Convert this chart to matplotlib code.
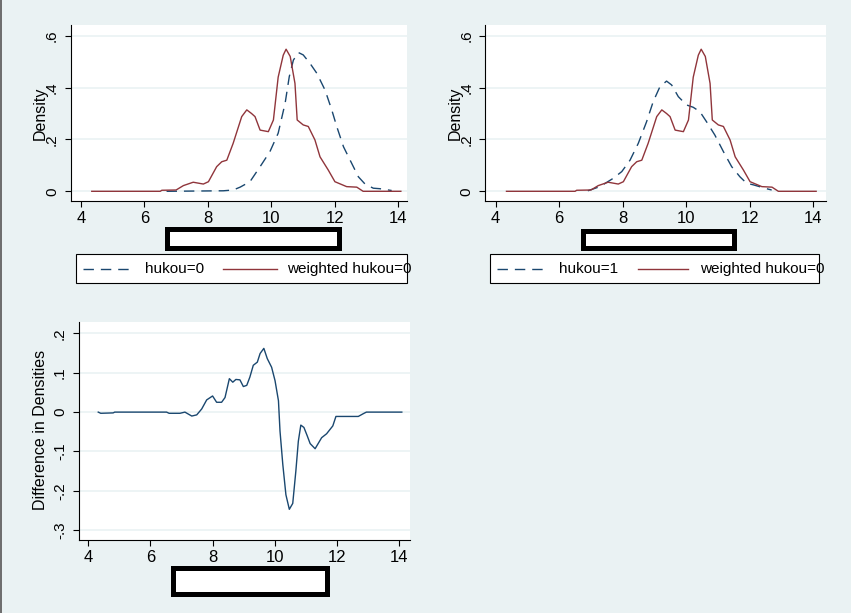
import matplotlib

matplotlib.use("Agg")
import matplotlib.pyplot as plt
from matplotlib.lines import Line2D
from matplotlib.patches import Rectangle

# ---- data ----
# weighted hukou=0 (solid maroon, same curve in both top panels)
weighted_x = [4.34, 6.50, 6.55, 7.00, 7.23, 7.54, 7.86, 8.02, 8.28, 8.44, 8.60,
              8.80, 9.07, 9.23, 9.38, 9.49, 9.65, 9.91, 10.07, 10.22, 10.38,
              10.47, 10.60, 10.75, 10.82, 11.01, 11.17, 11.38, 11.54, 11.80,
              12.01, 12.38, 12.70, 12.90, 14.09]
weighted_y = [0.0, 0.0, 0.004, 0.005, 0.022, 0.035, 0.028, 0.037, 0.095, 0.114,
              0.120, 0.185, 0.288, 0.314, 0.300, 0.288, 0.236, 0.230, 0.275,
              0.440, 0.525, 0.548, 0.520, 0.416, 0.275, 0.256, 0.250, 0.198,
              0.133, 0.082, 0.037, 0.018, 0.016, 0.0, 0.0]

# hukou=0 (dashed navy, top left)
hukou0_x = [6.70, 8.49, 8.80, 9.02, 9.33, 9.65, 9.96, 10.22, 10.44, 10.57, 10.70,
            10.86, 11.01, 11.22, 11.44, 11.70, 11.91, 12.07, 12.28, 12.49,
            12.75, 12.96, 13.22, 13.43, 13.80]
hukou0_y = [0.0, 0.002, 0.005, 0.016, 0.037, 0.095, 0.153, 0.224, 0.340, 0.442,
            0.506, 0.535, 0.526, 0.494, 0.455, 0.390, 0.314, 0.249, 0.172,
            0.120, 0.056, 0.028, 0.012, 0.010, 0.003]

# hukou=1 (dashed navy, top right)
hukou1_x = [6.90, 7.28, 7.70, 7.97, 8.23, 8.49, 8.75, 8.96, 9.17, 9.38, 9.54,
            9.75, 10.01, 10.22, 10.43, 10.64, 10.90, 11.17, 11.43, 11.69, 11.90,
            12.11, 12.53, 12.69]
hukou1_y = [0.002, 0.018, 0.050, 0.076, 0.120, 0.185, 0.268, 0.346, 0.403, 0.425,
            0.410, 0.365, 0.333, 0.324, 0.307, 0.268, 0.217, 0.153, 0.095,
            0.056, 0.031, 0.025, 0.010, 0.005]

# difference in densities (bottom)
diff_x = [4.32, 4.40, 4.80, 4.85, 6.52, 6.60, 6.95, 7.11, 7.33, 7.49, 7.65, 7.81,
          8.00, 8.13, 8.29, 8.40, 8.54, 8.65, 8.75, 8.88, 8.99, 9.10, 9.20, 9.31,
          9.44, 9.53, 9.65, 9.76, 9.90, 10.01, 10.12, 10.17, 10.26, 10.36,
          10.47, 10.58, 10.68, 10.76, 10.84, 10.94, 11.05, 11.14, 11.30, 11.51,
          11.67, 11.87, 11.97, 12.69, 12.85, 12.95, 14.09]
diff_y = [0.0, -0.003, -0.002, 0.0, 0.0, -0.003, -0.003, 0.0, -0.010, -0.007,
          0.008, 0.031, 0.041, 0.025, 0.025, 0.037, 0.085, 0.076, 0.083, 0.082,
          0.065, 0.068, 0.089, 0.119, 0.127, 0.149, 0.162, 0.136, 0.114, 0.080,
          0.029, -0.048, -0.133, -0.210, -0.247, -0.232, -0.150, -0.074,
          -0.033, -0.039, -0.061, -0.080, -0.093, -0.065, -0.055, -0.035,
          -0.011, -0.011, -0.004, 0.0, 0.0]

x_ticks = [4, 6, 8, 10, 12, 14]
density_ticks = [0, 0.2, 0.4, 0.6]
density_labels = ["0", ".2", ".4", ".6"]
diff_ticks = [-0.3, -0.2, -0.1, 0, 0.1, 0.2]
diff_labels = ["-.3", "-.2", "-.1", "0", ".1", ".2"]

# ---- styling ----
W, H = 851, 613
BG = "#EAF2F3"
NAVY = "#1A476F"
MAROON = "#90353B"
DASH = (0, (7.5, 5))

plt.rcParams["font.family"] = ["Liberation Sans", "DejaVu Sans"]

fig = plt.figure(figsize=(W / 100, H / 100), dpi=100, facecolor=BG)


def fx(px):
    return px / W


def fy(py):
    return 1 - py / H


def make_axes(left, top, right, bottom):
    ax = fig.add_axes([fx(left), fy(bottom), fx(right) - fx(left), fy(top) - fy(bottom)])
    ax.set_facecolor("white")
    for side in ("top", "right"):
        ax.spines[side].set_visible(False)
    for side in ("left", "bottom"):
        ax.spines[side].set_linewidth(0.8)
    ax.tick_params(direction="out", length=4, width=0.8, color="black")
    ax.tick_params(axis="x", labelsize=12, pad=3.5)
    ax.grid(axis="y", color=BG, linewidth=1.2)
    ax.set_axisbelow(True)
    return ax


def y_tick_texts(ax, ticks, labels, offset):
    # Stata-style vertical tick labels, centred on the tick
    ax.set_yticks(ticks)
    ax.set_yticklabels([])
    for value, text in zip(ticks, labels):
        ax.text(offset, value, text, transform=ax.get_yaxis_transform(),
                rotation=90, ha="center", va="center", fontsize=11, clip_on=False)


def density_panel(ax, dash_x, dash_y, xlim, offset):
    ax.plot(dash_x, dash_y, color=NAVY, linewidth=1.0, linestyle=DASH)
    ax.plot(weighted_x, weighted_y, color=MAROON, linewidth=1.0)
    ax.set_xlim(*xlim)
    ax.set_ylim(-0.0374, 0.6413)
    ax.set_xticks(x_ticks)
    y_tick_texts(ax, density_ticks, density_labels, offset)
    ax.set_ylabel("Density", fontsize=11.5)


def redacted_box(x0, y0, x1, y1):
    fig.add_artist(Rectangle((fx(x0), fy(y1)), fx(x1) - fx(x0), fy(y0) - fy(y1),
                             transform=fig.transFigure, facecolor="white",
                             edgecolor="black", linewidth=3.6))


def legend_box(x0, y0, x1, y1, dash_seg, dash_text, solid_seg, solid_text, label):
    fig.add_artist(Rectangle((fx(x0), fy(y1)), fx(x1) - fx(x0), fy(y0) - fy(y1),
                             transform=fig.transFigure, facecolor="white",
                             edgecolor="black", linewidth=0.8))
    yc = fy((y0 + y1) / 2)
    fig.add_artist(Line2D([fx(dash_seg[0]), fx(dash_seg[1])], [yc, yc],
                          transform=fig.transFigure, color=NAVY, linewidth=1.0,
                          linestyle=DASH))
    fig.add_artist(Line2D([fx(solid_seg[0]), fx(solid_seg[1])], [yc, yc],
                          transform=fig.transFigure, color=MAROON, linewidth=1.0))
    fig.text(fx(dash_text), yc, label, fontsize=11, va="center", ha="left")
    fig.text(fx(solid_text), yc, "weighted hukou=0", fontsize=11, va="center", ha="left")


# top left
ax1 = make_axes(71, 25, 407, 201)
density_panel(ax1, hukou0_x, hukou0_y, (3.685, 14.284), -0.0565)
ax1.yaxis.set_label_coords(-0.070, 0.5)

# top right
ax2 = make_axes(485.3, 25, 826, 201)
density_panel(ax2, hukou1_x, hukou1_y, (3.673, 14.40), -0.0560)
ax2.yaxis.set_label_coords(-0.0655, 0.5)

# bottom left
ax3 = make_axes(78.7, 322, 410, 540)
ax3.plot(diff_x, diff_y, color=NAVY, linewidth=1.0)
ax3.set_xlim(3.691, 14.354)
ax3.set_ylim(-0.325, 0.229)
ax3.set_xticks(x_ticks)
y_tick_texts(ax3, diff_ticks, diff_labels, -0.0564)
ax3.set_ylabel("Difference in Densities", fontsize=11.5)
ax3.yaxis.set_label_coords(-0.094, 0.505)

# blanked-out x titles
redacted_box(166.5, 228.5, 339.2, 248.2)
redacted_box(582.8, 231.5, 734.2, 248.2)
redacted_box(172.5, 568.2, 326.8, 594.2)

# legends
legend_box(76, 254, 406.7, 283.5, (83, 133), 145, (223, 277), 287, "hukou=0")
legend_box(490, 254, 819.3, 283.5, (497, 547), 559, (638, 688), 700, "hukou=1")

# left window edge
fig.add_artist(Rectangle((0, 0), fx(2), 1, transform=fig.transFigure,
                         facecolor="#6F6F6F", edgecolor="none"))

fig.savefig("out.png", dpi=100, facecolor=BG)
